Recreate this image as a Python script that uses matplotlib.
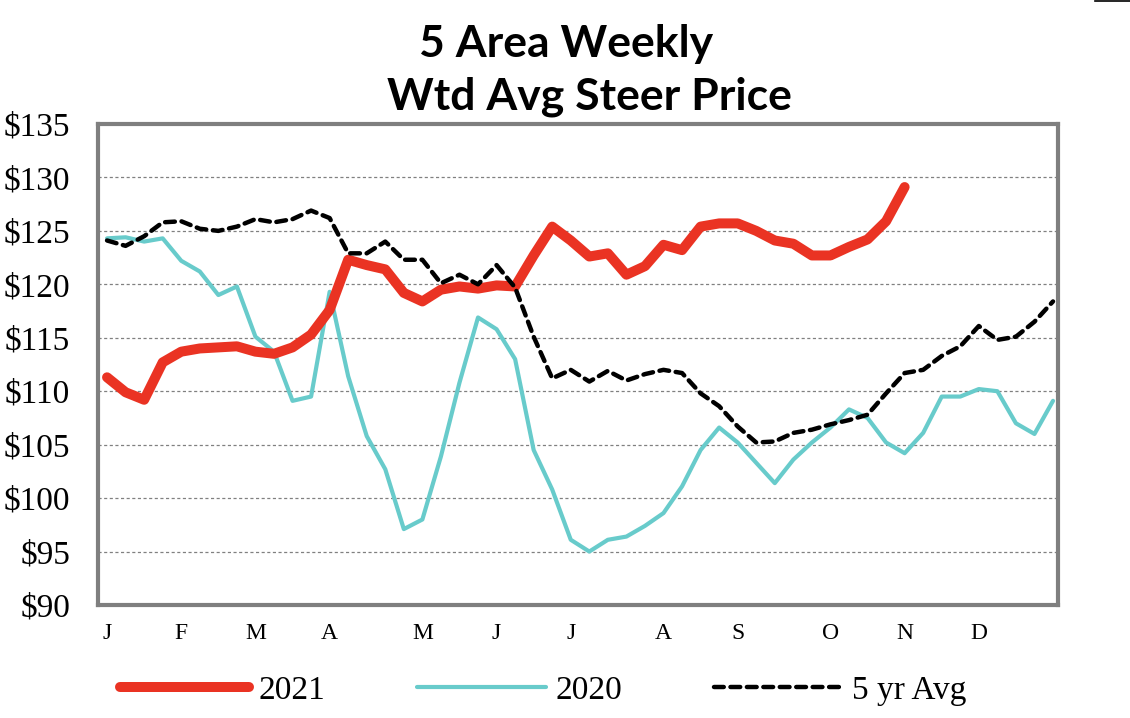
import matplotlib
matplotlib.use("Agg")
import matplotlib.pyplot as plt
from matplotlib.lines import Line2D

# weekly series, week 1..52
price_2021 = [111.3, 109.9, 109.2, 112.7, 113.7, 114.0, 114.1, 114.2, 113.7, 113.5,
              114.1, 115.3, 117.6, 122.3, 121.8, 121.4, 119.2, 118.4, 119.5, 119.8,
              119.6, 119.9, 119.8, 122.7, 125.4, 124.1, 122.6, 122.9, 120.9, 121.7,
              123.7, 123.2, 125.4, 125.7, 125.7, 125.0, 124.1, 123.8, 122.7, 122.7,
              123.5, 124.2, 125.9, 129.1]
price_2020 = [124.3, 124.4, 124.0, 124.3, 122.2, 121.2, 119.0, 119.8, 115.1, 113.7,
              109.1, 109.5, 119.3, 111.4, 105.8, 102.7, 97.1, 98.0, 103.9, 110.8,
              116.9, 115.8, 113.0, 104.5, 100.8, 96.1, 95.0, 96.1, 96.4, 97.4,
              98.6, 101.1, 104.5, 106.6, 105.2, 103.3, 101.4, 103.6, 105.2, 106.6,
              108.3, 107.5, 105.2, 104.2, 106.1, 109.5, 109.5, 110.2, 110.0, 107.0,
              106.0, 109.1]
price_5yr = [124.1, 123.6, 124.5, 125.8, 125.9, 125.2, 125.0, 125.4, 126.1, 125.8,
             126.1, 126.9, 126.2, 122.9, 122.9, 124.0, 122.3, 122.3, 120.1, 120.9,
             120.0, 121.8, 119.7, 115.1, 111.2, 112.0, 110.9, 111.9, 111.0, 111.6,
             112.0, 111.7, 109.8, 108.6, 106.7, 105.2, 105.3, 106.1, 106.4, 106.9,
             107.3, 107.8, 109.8, 111.7, 112.0, 113.3, 114.2, 116.1, 114.8, 115.1,
             116.5, 118.4]

month_weeks = [0, 4, 8, 12, 17, 21, 25, 30, 34, 39, 43, 47]
month_labels = ["J", "F", "M", "A", "M", "J", "J", "A", "S", "O", "N", "D"]
y_ticks = list(range(90, 136, 5))

RED = "#EA3323"
TEAL = "#68CBCB"
FRAME = "#7f7f7f"
serif = ["Liberation Serif", "DejaVu Serif"]
title_font = ["Lato", "DejaVu Sans"]

fig = plt.figure(figsize=(11.3, 7.18), dpi=100)
ax = fig.add_axes([0.0867, 0.1574, 0.8496, 0.6699])

ax.plot(range(len(price_2021)), price_2021, color=RED, lw=7.2,
        solid_capstyle="round", solid_joinstyle="round", label="2021", zorder=3)
ax.plot(range(len(price_2020)), price_2020, color=TEAL, lw=3.0,
        solid_capstyle="round", solid_joinstyle="round", label="2020", zorder=2)
ax.plot(range(len(price_5yr)), price_5yr, color="black", lw=3.2,
        dashes=(2.2, 1.5), dash_capstyle="round", label="5 yr Avg", zorder=4)

ax.set_xlim(-0.49, 51.27)
ax.set_ylim(90, 135)
ax.set_yticks(y_ticks)
ax.set_yticklabels([f"${v}" for v in y_ticks], fontsize=24, family=serif)
ax.set_xticks(month_weeks)
ax.set_xticklabels(month_labels, fontsize=17, family=serif)
ax.tick_params(axis="y", length=0, pad=20)
ax.tick_params(axis="x", length=0, pad=13)

ax.yaxis.grid(True, color="#808080", lw=0.9, ls=(0, (2.5, 2)))
ax.set_axisbelow(True)
for s in ax.spines.values():
    s.set_color(FRAME)
    s.set_linewidth(3)

fig.text(0.501, 0.921, "5 Area Weekly", ha="center", va="baseline",
         fontsize=32, fontweight="bold", family=title_font)
fig.text(0.522, 0.847, "Wtd Avg Steer Price", ha="center", va="baseline",
         fontsize=32, fontweight="bold", family=title_font)

leg = fig.legend(loc="center", bbox_to_anchor=(0.481, 0.038), ncol=3,
                 frameon=False, prop={"family": serif, "size": 24},
                 handlelength=3.85, handletextpad=0.3, columnspacing=2.75)

# small stray rule at the top right corner of the original image
fig.add_artist(Line2D([0.969, 1.0], [0.998, 0.998], color="black", lw=1.2,
                      transform=fig.transFigure))

fig.savefig("out.png", dpi=100)
